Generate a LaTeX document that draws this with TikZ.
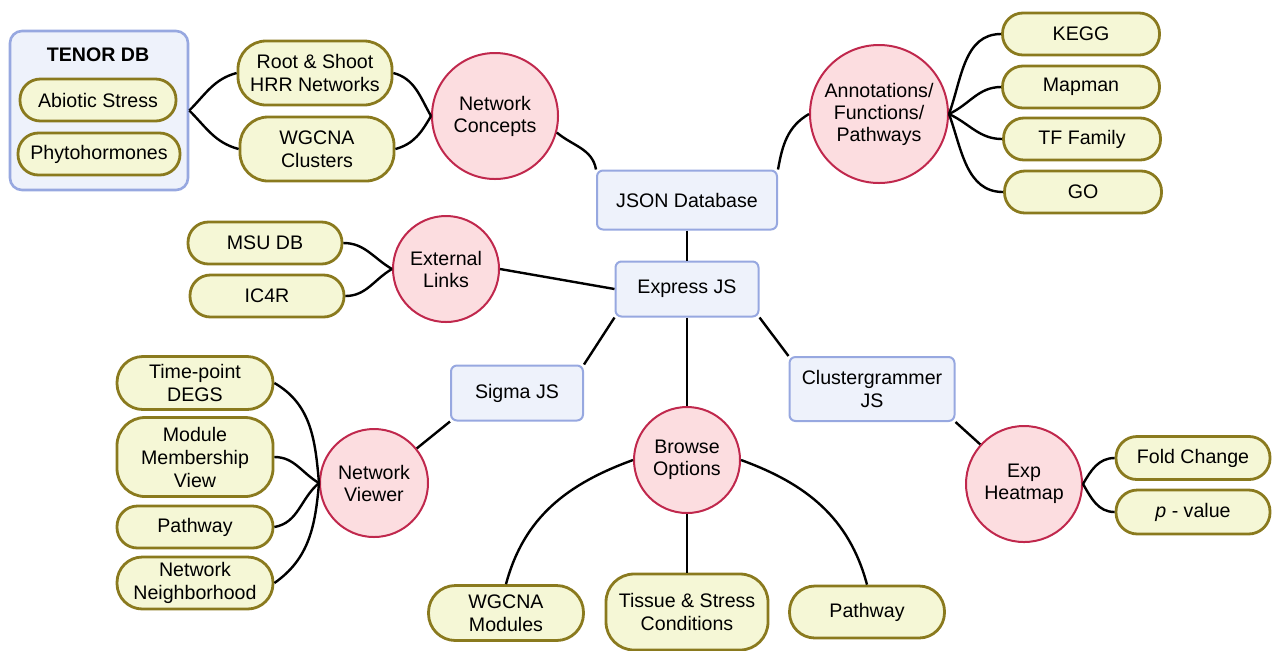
\documentclass[tikz,border=0pt]{standalone}
\usepackage{fontspec}
\setmainfont{Liberation Sans}
\usepackage{tikz}
\usetikzlibrary{positioning}
\definecolor{pillfill}{HTML}{F5F7D6}
\definecolor{pillline}{HTML}{8A7A1E}
\definecolor{hubfill}{HTML}{FCDDE0}
\definecolor{hubline}{HTML}{C0284D}
\definecolor{boxfill}{HTML}{EEF2FB}
\definecolor{boxline}{HTML}{97A8E0}
\tikzstyle{pill}=[draw=pillline, fill=pillfill, line width=1.4pt, rounded corners=10pt, align=center, inner sep=1pt, font=\fontsize{9.8}{11.5}\selectfont]
\tikzstyle{hub}=[circle, draw=hubline, fill=hubfill, line width=1pt, align=center, inner sep=0pt, font=\fontsize{9.8}{11}\selectfont]
\tikzstyle{jsbox}=[rectangle, draw=boxline, fill=boxfill, line width=1pt, rounded corners=3pt, align=center, font=\fontsize{9.8}{11.5}\selectfont]
\tikzstyle{group}=[jsbox, rounded corners=6pt, line width=1.3pt]
\tikzstyle{link}=[line width=1.2pt, black]

\begin{document}
\begin{tikzpicture}[x=0.5pt, y=-0.5pt]
\useasboundingbox (0,0) rectangle (1272,650);

%TENOR DB
\node[group, minimum width=89pt, minimum height=79.5pt] (tenor) at (99,110.5) {};
\node[font=\bfseries\fontsize{9.8}{11.5}\selectfont] (tenortitle) at (98,55) {TENOR DB};

%servers and libraries
\foreach \pos/\name/\w/\h/\label in {{(687,200)/json/90/29.5/JSON Database}, {(687,289)/express/71.5/27.5/Express JS}, {(517,393)/sigma/66/27.5/Sigma JS}, {(872,389)/cluster/82.5/32/{Clustergrammer\\JS}}}
    \node[jsbox, minimum width=\w pt, minimum height=\h pt] (\name) at \pos {\label};

%hubs
\foreach \pos/\name/\d/\label in {{(495,116)/concepts/63/{Network\\Concepts}}, {(879,114)/annot/69/{Annotations/\\Functions/\\Pathways}}, {(446,269)/extlinks/53/{External\\Links}}, {(374,483)/viewer/54/{Network\\Viewer}}, {(687,460)/browse/53/{Browse\\Options}}, {(1024,484)/heatmap/58/{Exp\\Heatmap}}}
    \node[hub, minimum size=\d pt] (\name) at \pos {\label};

%leaves (corner radius follows the height)
\foreach \pos/\name/\w/\h/\label in {{(98,100)/abiotic/78/21/Abiotic Stress}, {(99,154)/phyto/81/21/Phytohormones},
    {(315,73)/roots/77/32/{Root \& Shoot\\HRR Networks}}, {(317,149)/wgcna/77/32/{WGCNA\\Clusters}},
    {(1081,34)/kegg/78.5/21/KEGG}, {(1081,87)/mapman/78.5/21/Mapman}, {(1082,139)/tffam/78.5/21/TF Family}, {(1083,192)/go/78.5/21/GO},
    {(265,243)/msu/77/21/MSU DB}, {(267,296)/icfr/77/21/IC4R},
    {(195,383)/timepoint/78/26.5/{Time-point\\DEGS}}, {(195,457)/module/78/39.5/{Module\\Membership\\View}}, {(195,527)/vpathway/78/21/Pathway}, {(195,583)/neighbor/78/26/{Network\\Neighborhood}},
    {(506,613)/modules/77.5/27.5/{WGCNA\\Modules}}, {(687,612)/tissue/81/38/{Tissue \& Stress\\Conditions}}, {(867,612)/bpathway/77.5/26/Pathway},
    {(1193,458)/fold/77/21.5/Fold Change}, {(1193,512)/pval/77/22/{\textit{p} - value}}}
    \node[pill, rounded corners={min(\h/2-0.3,14)*1pt}, minimum width=\w pt, minimum height=\h pt] (\name) at \pos {\label};

%straight links
\foreach \source/\dest in {json/express, extlinks.east/express.west, express.south west/sigma.north east, sigma.south west/viewer, express.south east/cluster.north west, cluster.south east/heatmap, express/browse, browse/tissue}
    \draw[link] (\source) -- (\dest);

%curved links
\foreach \source/\dest/\o/\i in {tenor.east/roots.west/45/195, tenor.east/wgcna.west/-45/165,
    roots.east/concepts.west/-15/120, wgcna.east/concepts.west/15/240,
    concepts.-15/json.north west/-40/100, json.north east/annot.west/80/-150,
    annot.east/kegg.west/70/180, annot.east/mapman.west/25/180, annot.east/tffam.west/-25/180, annot.east/go.west/-70/180,
    msu.east/extlinks.west/0/150, icfr.east/extlinks.west/0/210,
    timepoint.east/viewer.west/-30/95, module.east/viewer.west/0/150, vpathway.east/viewer.west/10/220, neighbor.east/viewer.west/35/265,
    browse.west/modules.north/200/75, browse.east/bpathway.north/-20/105,
    heatmap.east/fold.west/60/180, heatmap.east/pval.west/-60/180}
    \draw[link] (\source) to[out=\o, in=\i] (\dest);

\end{tikzpicture}
\end{document}
